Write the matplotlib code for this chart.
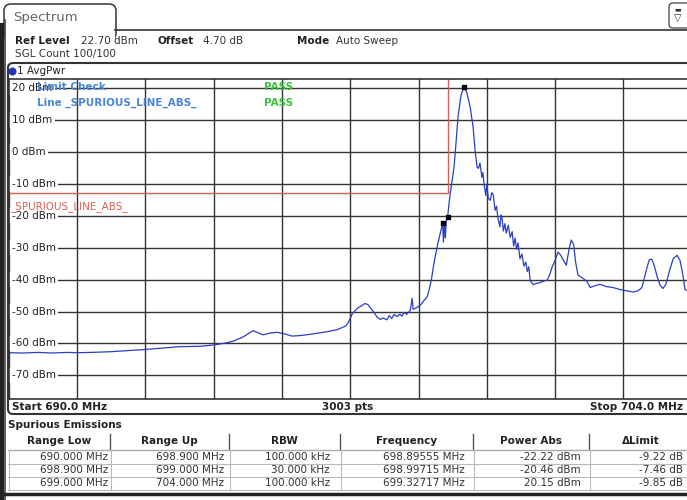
import numpy as np
import matplotlib.pyplot as plt
from matplotlib.patches import FancyBboxPatch, Rectangle, Circle
from matplotlib.lines import Line2D
from matplotlib.transforms import IdentityTransform

# trace (MHz, dBm)
freq = [690.00, 690.30, 690.60, 690.90, 691.20, 691.40, 691.70, 692.08, 692.40, 692.79,
        693.10, 693.51, 693.92, 694.19, 694.40, 694.60, 694.80, 695.01, 695.10, 695.21,
        695.35, 695.50, 695.65, 695.81, 696.00, 696.24, 696.50, 696.73, 696.90, 696.96,
        697.05, 697.15, 697.30, 697.36, 697.45, 697.55, 697.62, 697.67, 697.75, 697.80,
        697.85, 697.90, 697.96, 698.02, 698.06, 698.10, 698.16, 698.23, 698.27, 698.29,
        698.35, 698.44, 698.50, 698.58, 698.63, 698.67, 698.71, 698.76, 698.80, 698.84,
        698.87, 698.89555, 698.91, 698.93, 698.95, 698.97, 698.99715, 699.02, 699.05, 699.09,
        699.13, 699.17, 699.21, 699.27, 699.32717, 699.39, 699.46, 699.52, 699.56, 699.60,
        699.63, 699.66, 699.70, 699.72, 699.75, 699.78, 699.80, 699.83, 699.87, 699.90,
        699.93, 699.97, 700.00, 700.03, 700.07, 700.09, 700.11, 700.14, 700.17, 700.20,
        700.24, 700.28, 700.32, 700.35, 700.38, 700.41, 700.44, 700.48, 700.52, 700.56,
        700.60, 700.63, 700.66, 700.69, 700.75, 700.82, 700.89, 700.96, 701.04, 701.10,
        701.14, 701.20, 701.26, 701.32, 701.37, 701.43, 701.48, 701.53, 701.58, 701.62,
        701.67, 701.76, 701.85, 701.92, 702.00, 702.12, 702.25, 702.39, 702.50, 702.59,
        702.70, 702.80, 702.90, 702.98, 703.03, 703.08, 703.13, 703.18, 703.23, 703.29,
        703.35, 703.41, 703.47, 703.55, 703.62, 703.70, 703.76, 703.82, 703.86, 703.92,
        704.00]
level = [-62.9, -63.0, -62.8, -63.0, -62.8, -62.9, -62.8, -62.6, -62.3, -61.9,
         -61.5, -61.0, -60.9, -60.5, -60.0, -59.3, -58.0, -56.0, -56.6, -57.3,
         -56.8, -56.5, -57.0, -57.7, -57.5, -57.0, -56.4, -55.7, -54.6, -53.5,
         -50.5, -49.0, -47.5, -47.8, -49.5, -51.7, -52.5, -52.0, -52.6, -51.3,
         -52.2, -50.9, -51.6, -50.8, -51.5, -50.3, -50.9, -49.7, -45.9, -49.3,
         -48.9, -48.0, -46.8, -45.3, -42.5, -39.5, -35.5, -31.5, -28.5, -26.0,
         -24.0, -22.22, -28.3, -23.0, -27.0, -21.5, -20.46, -17.0, -13.1, -9.0,
         -4.5, 3.0, 11.0, 17.6, 20.15, 18.6, 13.9, 7.7, 0.4, -4.8,
         -5.2, -3.5, -8.0, -6.5, -10.8, -13.7, -10.2, -14.5, -15.2, -12.8,
         -13.3, -18.3, -17.0, -21.0, -23.5, -19.8, -20.5, -24.8, -22.5, -25.5,
         -23.0, -26.8, -25.0, -29.5, -27.0, -30.5, -28.5, -33.5, -32.0, -35.8,
         -34.5, -37.5, -36.0, -40.3, -41.6, -41.2, -41.0, -40.5, -40.2, -38.0,
         -36.0, -34.0, -31.4, -32.5, -34.0, -35.5, -31.0, -27.6, -29.0, -34.5,
         -38.6, -39.5, -40.5, -42.5, -42.0, -41.5, -42.2, -42.5, -43.0, -43.3,
         -43.6, -43.9, -43.5, -42.5, -39.5, -36.5, -33.8, -33.6, -35.5, -39.0,
         -41.7, -42.8, -41.5, -37.0, -33.5, -32.4, -34.0, -38.5, -43.0, -43.6,
         -43.8]

# markers
mk_freq = [698.89555, 698.99715, 699.32717]
mk_level = [-22.22, -20.46, 20.15]

# limit line
lim_freq = [690.0, 699.0, 699.0]
lim_level = [-13.0, -13.0, 40.0]

y_ticks = [20, 10, 0, -10, -20, -30, -40, -50, -60, -70]

# spurious emissions table
headers = ['Range Low', 'Range Up', 'RBW', 'Frequency', 'Power Abs', 'ΔLimit']
range_low = ['690.000 MHz', '698.900 MHz', '699.000 MHz']
range_up = ['698.900 MHz', '699.000 MHz', '704.000 MHz']
rbw = ['100.000 kHz', '30.000 kHz', '100.000 kHz']
peak_freq = ['698.89555 MHz', '698.99715 MHz', '699.32717 MHz']
power_abs = ['-22.22 dBm', '-20.46 dBm', '20.15 dBm']
delta_limit = ['-9.22 dB', '-7.46 dB', '-9.85 dB']

W, H = 687, 500
fig = plt.figure(figsize=(W / 100, H / 100), dpi=100)
fig.patch.set_facecolor('white')
pix = IdentityTransform()


def fx(x):
    return x / W


def fy(y):
    return 1 - y / H


def hline(x0, x1, y, c='#333333', lw=1.0):
    fig.add_artist(Line2D([x0, x1], [H - y, H - y], color=c, lw=lw, transform=pix))


def vline(x, y0, y1, c='#333333', lw=1.0):
    fig.add_artist(Line2D([x, x], [H - y0, H - y1], color=c, lw=lw, transform=pix))


def txt(x, y, s, **kw):
    kw.setdefault('fontsize', 7.5)
    kw.setdefault('va', 'center')
    fig.text(fx(x), fy(y), s, **kw)


# window frame / tab
vline(1.5, 25, 500, c='#222222', lw=3)
fig.add_artist(FancyBboxPatch((4, H - 40), 112, 36, boxstyle='round,pad=0,rounding_size=7',
                              fc='white', ec='#444444', lw=1.2, transform=pix))
fig.add_artist(Rectangle((5, H - 42), 110, 12, fc='white', ec='none', transform=pix))
hline(115, 690, 30, c='#333333', lw=1.2)
vline(4.5, 20, 500, c='#444444', lw=1.2)
txt(13, 17, 'Spectrum', fontsize=9.5, color='#666666')
fig.add_artist(FancyBboxPatch((669, H - 28), 22, 25, boxstyle='round,pad=0,rounding_size=4',
                              fc='white', ec='#555555', lw=1, transform=pix))
txt(678, 9, '▬', fontsize=5, color='#333333', ha='center')
txt(678, 18, '▽', fontsize=7, color='#333333', ha='center')

# settings info
txt(15, 41, 'Ref Level', fontweight='bold', color='#222222')
txt(81, 41, '22.70 dBm', color='#333333')
txt(157, 41, 'Offset', fontweight='bold', color='#222222')
txt(203, 41, '4.70 dB', color='#333333')
txt(297, 41, 'Mode', fontweight='bold', color='#222222')
txt(336, 41, 'Auto Sweep', color='#333333')
txt(15, 54, 'SGL Count 100/100', color='#333333')

# diagram box
fig.add_artist(FancyBboxPatch((8, H - 414), 690, 351, boxstyle='round,pad=0,rounding_size=5',
                              fc='none', ec='#333333', lw=1.5, transform=pix))
fig.add_artist(Circle((12.5, H - 71.5), 4, fc='#2233bb', ec='none', transform=pix))
txt(17, 71.5, '1 AvgPwr', color='#222222')

ax = fig.add_axes([fx(8.7), fy(398.7), 683 / W, (398.7 - 79.3) / H])
ax.set_xlim(690, 704)
ax.set_ylim(-77.3, 22.7)
ax.set_xticks(np.linspace(690, 704, 11))
ax.set_yticks(y_ticks)
ax.tick_params(length=0, labelbottom=False, labelleft=False)
ax.grid(True, color='#333333', lw=1)
for s in ax.spines.values():
    s.set_color('#333333')
    s.set_linewidth(1.2)
    s.set_zorder(8)

for v in y_ticks:
    ax.text(690.06, v, f'{v} dBm', fontsize=7.5, va='center', ha='left', color='#222222',
            bbox=dict(fc='white', ec='none', pad=2.0), zorder=3)

ax.plot(lim_freq, lim_level, color='#d9605a', lw=1, zorder=4)
ax.text(690.03, -17.0, '_SPURIOUS_LINE_ABS_', fontsize=7.5, color='#d9605a', va='center', zorder=4)
ax.plot(freq, level, color='#2b3fc4', lw=0.9, zorder=5)
ax.plot(mk_freq, mk_level, ls='none', marker='s', ms=3.5, color='black', zorder=6)

txt(37, 87, 'Limit Check', fontweight='bold', color='#4a86d8', zorder=7)
txt(264, 87, 'PASS', fontweight='bold', color='#3cc43c', zorder=7)
txt(37, 103, 'Line _SPURIOUS_LINE_ABS_', fontweight='bold', color='#4a86d8', zorder=7)
txt(264, 103, 'PASS', fontweight='bold', color='#3cc43c', zorder=7)

# bottom scale row
txt(12, 407.5, 'Start 690.0 MHz', fontweight='bold', color='#222222')
txt(348, 407.5, '3003 pts', fontweight='bold', color='#222222', ha='center')
txt(683, 407.5, 'Stop 704.0 MHz', fontweight='bold', color='#222222', ha='right')

# table
txt(8, 425, 'Spurious Emissions', fontweight='bold', color='#222222')
col_edges = [8, 110, 229, 340, 473, 589, 692]
right_ends = [108, 224, 330, 465, 581, 683]
columns = [range_low, range_up, rbw, peak_freq, power_abs, delta_limit]
for i, h in enumerate(headers):
    txt((col_edges[i] + col_edges[i + 1]) / 2, 441.5, h, fontweight='bold', color='#222222', ha='center')
    if i > 0:
        vline(col_edges[i], 434, 449, c='#555555', lw=1)
row_y = [457, 470, 483]
hline(8, 690, 449.5, c='#aaaaaa', lw=1)
for r, y in enumerate(row_y):
    hline(8, 690, y + 6.5, c='#bbbbbb', lw=0.8)
    for i, col in enumerate(columns):
        txt(right_ends[i], y, col[r], color='#333333', ha='right')
for e in col_edges[:-1]:
    vline(e + 0.5, 449.5, 489.5, c='#bbbbbb', lw=0.8)
hline(0, 690, 494, c='#222222', lw=2.5)

fig.savefig('out.png', dpi=100)
